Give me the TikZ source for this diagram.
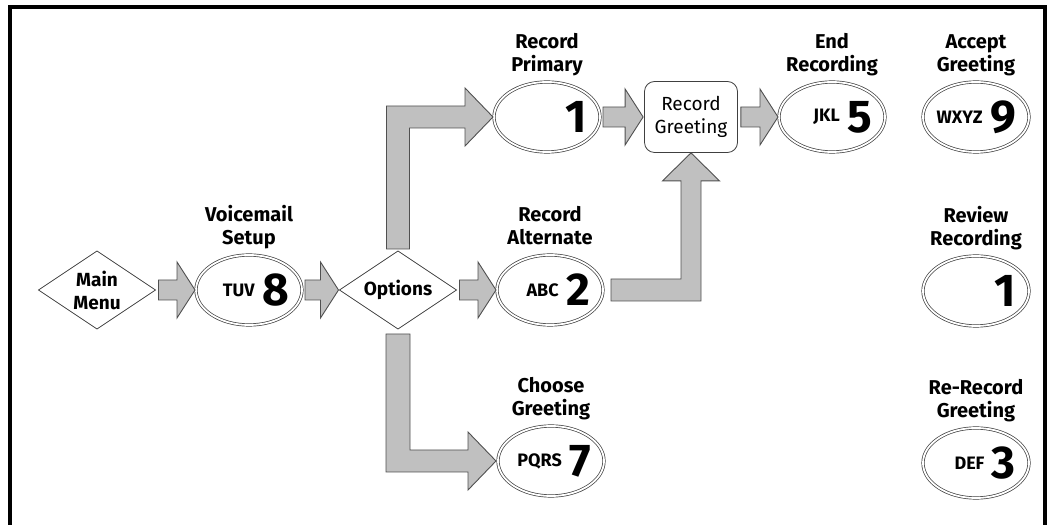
\documentclass[tikz,border=0pt]{standalone}
\usepackage{fontspec}
\setmainfont{Fira Sans}
\usetikzlibrary{shapes.geometric,positioning,calc}
\definecolor{arrowfill}{HTML}{C0C0C0}
\definecolor{arrowline}{HTML}{505050}
\definecolor{shapeline}{HTML}{404040}

\begin{document}
\begin{tikzpicture}[x=1pt,y=1pt,
  menudiamond/.style={diamond,draw=shapeline,line width=.8pt,aspect=1.5,minimum width=117pt,minimum height=78pt,inner sep=0pt,outer sep=0pt,align=center,font=\fontsize{19}{23}\selectfont\bfseries},
  keyoval/.style={ellipse,draw=black!75,double=white,double distance=1.8pt,line width=.7pt,minimum width=106pt,minimum height=70pt,inner sep=0pt,outer sep=0pt},
  keyletters/.style={inner sep=0pt,font=\fontsize{18}{18}\selectfont\bfseries},
  keydigit/.style={inner sep=0pt,font=\fontsize{46}{46}\selectfont\bfseries},
  steplabel/.style={align=center,inner sep=0pt,text depth=5pt,font=\fontsize{20}{23}\selectfont\bfseries},
  blockarrow/.style={fill=arrowfill,draw=arrowline,line width=.9pt,line join=miter}]
\useasboundingbox (0,0) rectangle (1050,525);
% frame
\draw[line width=4pt] (10,0) -- (10,517.5) -- (1045,517.5) -- (1045,0);
% menu nodes
\node[menudiamond] (mm) at (97,235) {Main\\Menu};
\node[keyoval] (tuv) at (249,235) {};
\node[menudiamond] (opt) at (398,235) {Options};
\node[keyoval] (abc) at (550,235) {};
\node[keyoval] (prim) at (547,408) {};
\node[draw=shapeline,line width=.8pt,rounded corners=10pt,minimum width=93pt,minimum height=71pt,align=center,font=\fontsize{19}{23}\selectfont] (rgreet) at (691,408) {Record\\Greeting};
\node[keyoval] (jkl) at (832,408) {};
\node[keyoval] (wxyz) at (976,408) {};
\node[keyoval] (review) at (976,234) {};
\node[keyoval] (def) at (976,62) {};
\node[keyoval] (pqrs) at (551,64) {};
% keys
\foreach \k/\ltr/\dgt in {tuv/TUV/8,abc/ABC/2,prim//1,jkl/JKL/5,wxyz/WXYZ/9,review//1,def/DEF/3,pqrs/PQRS/7}{
 \node[keydigit,anchor=east] (\k-d) at ($(\k.east)+(-13,0)$) {\dgt};
 \node[keyletters,anchor=east] (\k-l) at ($(\k-d.west)+(-7,0)$) {\ltr};
}
% labels
\foreach \k/\txt in {tuv/{Voicemail\\Setup},abc/{Record\\Alternate},prim/{Record\\Primary},jkl/{End\\Recording},wxyz/{Accept\\Greeting},review/{Review\\Recording},def/{Re-Record\\Greeting},pqrs/{Choose\\Greeting}}
 \node[steplabel,above=5pt of \k] (\k-lab) {\txt};
% straight arrows
\foreach \src/\dst in {mm/tuv,tuv/opt,opt/abc,prim/rgreet,rgreet/jkl}
 \draw[blockarrow] ($(\src.east |- \dst.west)+(3,10)$) -- ($(\dst.west)+(-19,10)$) -- ($(\dst.west)+(-19,28)$) -- ($(\dst.west)+(-1,0)$)
   -- ($(\dst.west)+(-19,-28)$) -- ($(\dst.west)+(-19,-10)$) -- ($(\src.east |- \dst.west)+(3,-10)$) -- cycle;
% bent arrows
\draw[blockarrow] ($(opt.north)+(-11.5,2)$) -- ($(opt.north |- prim.west)+(-11.5,11)$) -- ($(prim.west)+(-29,11)$) -- ($(prim.west)+(-29,29)$)
  -- ($(prim.west)+(-1,0)$) -- ($(prim.west)+(-29,-29)$) -- ($(prim.west)+(-29,-11)$) -- ($(opt.north |- prim.west)+(11.5,-11)$)
  -- ($(opt.north)+(11.5,2)$) -- cycle;
\draw[blockarrow] ($(opt.south)+(-12,-5)$) -- ($(opt.south |- pqrs.west)+(-12,-11)$) -- ($(pqrs.west)+(-30,-11)$) -- ($(pqrs.west)+(-30,-29)$)
  -- ($(pqrs.west)+(-2,0)$) -- ($(pqrs.west)+(-30,29)$) -- ($(pqrs.west)+(-30,11)$) -- ($(opt.south |- pqrs.west)+(12,11)$)
  -- ($(opt.south)+(12,-5)$) -- cycle;
\draw[blockarrow] ($(abc.east)+(8,11)$) -- ($(rgreet.south |- abc.east)+(-10,11)$) -- ($(rgreet.south)+(-10,-28)$) -- ($(rgreet.south)+(-28.5,-28)$)
  -- (rgreet.south) -- ($(rgreet.south)+(28.5,-28)$) -- ($(rgreet.south)+(10,-28)$) -- ($(rgreet.south |- abc.east)+(10,-11)$)
  -- ($(abc.east)+(8,-11)$) -- cycle;
\end{tikzpicture}
\end{document}
